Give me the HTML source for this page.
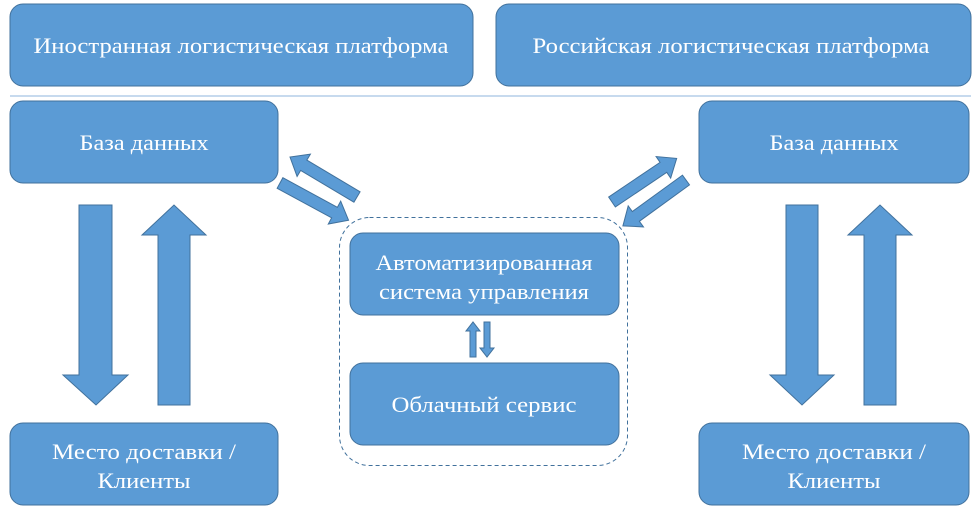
<!DOCTYPE html>
<html><head><meta charset="utf-8"><style>
html,body{margin:0;padding:0;background:#fff;}
svg{display:block;}
</style></head><body>
<svg width="974" height="509" viewBox="0 0 974 509">
<defs>
<polygon id="da" points="0,-6 62,-6 62,-13 78,0 62,13 62,6 0,6"/>
</defs>
<g fill="#5b9bd5" stroke="#41719c" stroke-width="1">
<rect x="10" y="4" width="463" height="82" rx="13"/>
<rect x="496" y="4" width="475" height="82" rx="13"/>
<rect x="10" y="101" width="268" height="82" rx="13"/>
<rect x="699" y="101" width="270" height="82" rx="13"/>
<rect x="10" y="423" width="268" height="82" rx="13"/>
<rect x="699" y="423" width="270" height="82" rx="13"/>
<rect x="350" y="233" width="269" height="82" rx="13"/>
<rect x="350" y="363" width="269" height="82" rx="13"/>
<polygon points="79,205 112,205 112,375 128,375 96,405 63,375 79,375"/>
<polygon points="158,405 190,405 190,235 206,235 174,205 142,235 158,235"/>
<polygon points="786,205 818,205 818,375 834,375 802,405 770,375 786,375"/>
<polygon points="864,405 896,405 896,235 912,235 880,205 848,235 864,235"/>
<use href="#da" transform="translate(357,197) rotate(210.8)"/>
<use href="#da" transform="translate(280,183) rotate(28.5)"/>
<use href="#da" transform="translate(612,202) rotate(-34)"/>
<use href="#da" transform="translate(686,180) rotate(144)"/>
<polygon points="470,357 476,357 476,331 480,331 473,322 466,331 470,331"/>
<polygon points="484,322 490,322 490,348 494,348 487,357 480,348 484,348"/>
</g>
<line x1="10" y1="96" x2="971" y2="96" stroke="#8fb4dc" stroke-width="1"/>
<rect x="339.5" y="217.5" width="288" height="248" rx="30" fill="none" stroke="#41719c" stroke-width="1" stroke-dasharray="4,3"/>
<g font-family="'Liberation Serif','Times New Roman',serif" font-size="22" fill="#fff" text-anchor="middle">
<text x="241" y="53" textLength="415" lengthAdjust="spacingAndGlyphs">Иностранная логистическая платформа</text>
<text x="731" y="53" textLength="397" lengthAdjust="spacingAndGlyphs">Российская логистическая платформа</text>
<text x="144" y="150" textLength="129" lengthAdjust="spacingAndGlyphs">База данных</text>
<text x="834" y="150" textLength="129" lengthAdjust="spacingAndGlyphs">База данных</text>
<text x="144" y="459" textLength="184" lengthAdjust="spacingAndGlyphs">Место доставки /</text>
<text x="144" y="488" textLength="93" lengthAdjust="spacingAndGlyphs">Клиенты</text>
<text x="834" y="459" textLength="184" lengthAdjust="spacingAndGlyphs">Место доставки /</text>
<text x="834" y="488" textLength="93" lengthAdjust="spacingAndGlyphs">Клиенты</text>
<text x="484" y="270" textLength="217" lengthAdjust="spacingAndGlyphs">Автоматизированная</text>
<text x="484" y="299" textLength="210" lengthAdjust="spacingAndGlyphs">система управления</text>
<text x="484" y="412" textLength="185" lengthAdjust="spacingAndGlyphs">Облачный сервис</text>
</g>
</svg>
</body></html>
